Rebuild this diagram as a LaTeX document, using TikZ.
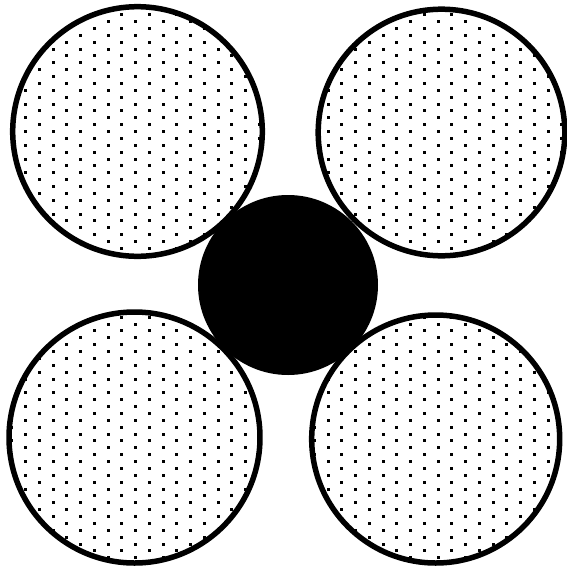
\documentclass[tikz,border=0pt]{standalone}
\begin{document}
\begin{tikzpicture}[x=0.02cm,y=-0.02cm,line cap=round,line join=round,
  ring/.style={draw=black,line width=0.11cm},
  core/.style={fill=black},
  speck/.style={fill=black}]
\path[use as bounding box] (0,0) rectangle (567,569);
\fill[white] (0,0) rectangle (567,569);
\coordinate (tl) at (137.5,131.5);
\coordinate (tr) at (441.5,132.5);
\coordinate (bl) at (134.5,437.5);
\coordinate (br) at (435.7,439);
\coordinate (mid) at (288,285);
\begin{scope}
\clip (tl) circle[radius=124.8] (tr) circle[radius=123.3] (bl) circle[radius=125.5] (br) circle[radius=124];
\foreach \i [evaluate=\i as \xx using {39.33+13.75*\i},
             evaluate=\i as \yy using {69.67+6.875*mod(\i+100,2)}] in {-3,...,38}
  \foreach \k in {-5,...,37}
    \fill[speck] (\xx-1.5,\yy+13.75*\k-1.5) rectangle ++(3,3);
\end{scope}
\draw[ring] (tl) circle[radius=124.8];
\draw[ring] (tr) circle[radius=123.3];
\draw[ring] (bl) circle[radius=125.5];
\draw[ring] (br) circle[radius=124];
\fill[core] (mid) circle[radius=90];
\end{tikzpicture}
\end{document}
